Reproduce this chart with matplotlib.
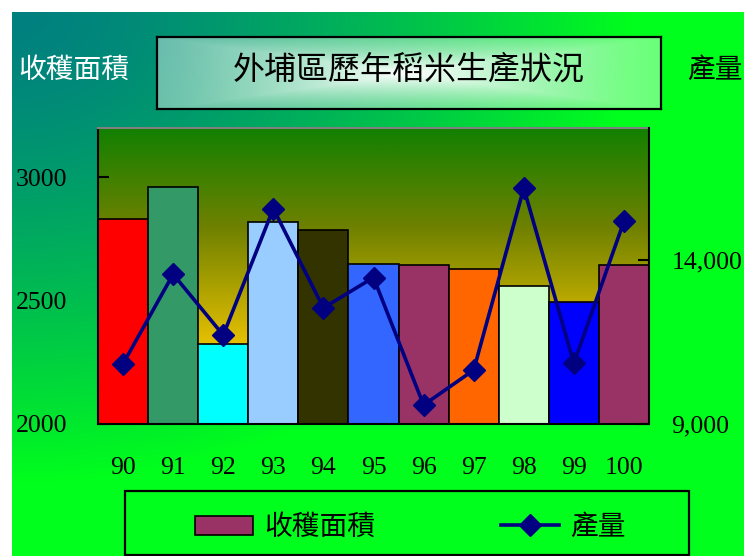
import numpy as np
import matplotlib
matplotlib.use('Agg')
import matplotlib.pyplot as plt
from matplotlib.patches import Rectangle, Patch
from matplotlib.lines import Line2D
from matplotlib.ticker import FuncFormatter

# ---------------- data ----------------
years = ['90', '91', '92', '93', '94', '95', '96', '97', '98', '99', '100']
area = [2833, 2962, 2323, 2819, 2787, 2648, 2643, 2630, 2559, 2494, 2643]
production = [10831, 13554, 11702, 15548, 12531, 13453, 9577, 10639, 16174, 10843, 15163]
bar_colors = ['#FF0000', '#339966', '#00FFFF', '#99CCFF', '#333300', '#3366FF',
              '#993366', '#FF6600', '#CCFFCC', '#0000FF', '#993366']
area_ticks = [2000, 2500, 3000]
area_range = [2000, 3200]
prod_ticks = [9000, 14000]
prod_range = [9000, 18000]
title = '外埔區歷年稻米生產狀況'
left_label = '收穫面積'
right_label = '產量'

CJK = ['Noto Sans CJK TC', 'DejaVu Sans']
SERIF = ['Liberation Serif', 'DejaVu Serif']

W, H = 744, 556
fig = plt.figure(figsize=(W / 100, H / 100), dpi=100)
fig.patch.set_facecolor('white')


def box(x0, y0, x1, y1):
    return [x0 / W, 1 - y1 / H, (x1 - x0) / W, (y1 - y0) / H]


# ---------------- figure background gradient ----------------
bg = fig.add_axes(box(12, 12, W, H), zorder=0)
h, w = H - 12, W - 12
yy, xx = np.mgrid[0:h, 0:w]
t = np.clip(np.sqrt((xx / 620.0) ** 2 + (yy / 470.0) ** 2), 0, 1) ** 1.5
img = np.zeros((h, w, 3))
img[..., 1] = (128 + 127 * t) / 255
img[..., 2] = (128 - 100 * t) / 255
bg.imshow(img, aspect='auto', interpolation='bilinear')
bg.axis('off')

# ---------------- title box ----------------
tb = fig.add_axes(box(157, 37, 661, 109), zorder=1)
tb.patch.set_visible(False)
th, tw = 72, 504
v, u = np.mgrid[0:th, 0:tw]
uu = np.abs((u - tw / 2) / (tw / 2))
vv = np.abs((v - th / 2) / (th / 2))
r = np.maximum(uu, vv)
alpha = 0.42 + 0.58 * (1 - r) ** 1.3
timg = np.ones((th, tw, 4))
timg[..., 3] = alpha
tb.imshow(timg, aspect='auto', interpolation='bilinear')
tb.set_xticks([]); tb.set_yticks([])
for s in tb.spines.values():
    s.set_linewidth(1.6)
    s.set_color('black')
fig.text(409 / W, 1 - 70 / H, title, family=CJK, fontsize=23, ha='center', va='center',
         color='black', zorder=5)

fig.text(74 / W, 1 - 70 / H, left_label, family=CJK, fontsize=20, ha='center', va='center',
         color='white', zorder=5)
fig.text(715 / W, 1 - 70 / H, right_label, family=CJK, fontsize=20, ha='center', va='center',
         color='black', zorder=5)

# ---------------- plot area gradient ----------------
pa = box(98, 128, 649, 424)
ga = fig.add_axes(pa, zorder=1)
stops = np.array([0.0, 0.33, 0.5, 0.73, 1.0])
cols = np.array([[18, 128, 0], [110, 128, 0], [160, 155, 0], [230, 192, 0], [255, 210, 0]]) / 255
n = 300
fr = np.linspace(0, 1, n)
gimg = np.zeros((n, 1, 3))
for c in range(3):
    gimg[:, 0, c] = np.interp(fr, stops, cols[:, c])
ga.imshow(gimg, aspect='auto', interpolation='bilinear')
ga.axis('off')

# ---------------- main axes ----------------
ax = fig.add_axes(pa, zorder=2)
ax.patch.set_visible(False)
x = np.arange(len(years))
ax.bar(x, [a - area_range[0] for a in area], bottom=area_range[0], width=1.0,
       color=bar_colors, edgecolor='black', linewidth=1.2, zorder=2)
ax.set_xlim(-0.5, len(years) - 0.5)
ax.set_ylim(*area_range)
ax.set_yticks(area_ticks)
ax.set_yticklabels([str(v) for v in area_ticks])
ax.set_xticks(x)
ax.set_xticklabels(years)
ax.tick_params(axis='y', direction='in', length=8, width=1.5, pad=22, labelsize=18.5)
ax.tick_params(axis='x', length=0, pad=24, labelsize=18.5)
for lab in ax.get_xticklabels() + ax.get_yticklabels():
    lab.set_family(SERIF)
ax.spines['right'].set_visible(False)
ax.spines['top'].set_color('#808080')
ax.spines['top'].set_linewidth(1.5)
ax.spines['left'].set_linewidth(1.5)
ax.spines['bottom'].set_linewidth(1.5)

ax2 = ax.twinx()
ax2.set_zorder(3)
ax2.patch.set_visible(False)
ax2.plot(x, production, color='#000080', linewidth=2.6, marker='D', markersize=11,
         markerfacecolor='#000080', markeredgecolor='#000080', zorder=3)
ax2.set_ylim(*prod_range)
ax2.set_yticks(prod_ticks)
ax2.yaxis.set_major_formatter(FuncFormatter(lambda v, p: f'{int(v):,}'))
ax2.tick_params(axis='y', direction='in', length=8, width=1.5, pad=16, labelsize=18.5)
for lab in ax2.get_yticklabels():
    lab.set_family(SERIF)
for k in ['top', 'left', 'bottom']:
    ax2.spines[k].set_visible(False)
ax2.spines['right'].set_linewidth(1.5)

# ---------------- legend ----------------
handles = [Patch(facecolor='#993366', edgecolor='black', linewidth=1.2, label=left_label),
           Line2D([], [], color='#000080', linewidth=2.6, marker='D', markersize=11,
                  label=right_label)]
fig.legend(handles=handles, loc='center', bbox_to_anchor=box(195, 512, 626, 542),
           mode='expand', ncol=2, frameon=False, borderpad=0, borderaxespad=0,
           handlelength=2.1, handleheight=0.65, handletextpad=0.4,
           prop={'family': CJK, 'size': 20})
frame = Rectangle((125 / W, 1 - 555 / H), 564 / W, 64 / H, transform=fig.transFigure,
                  fill=False, edgecolor='black', linewidth=1.6, zorder=10)
fig.add_artist(frame)

fig.savefig('out.png', dpi=100)
